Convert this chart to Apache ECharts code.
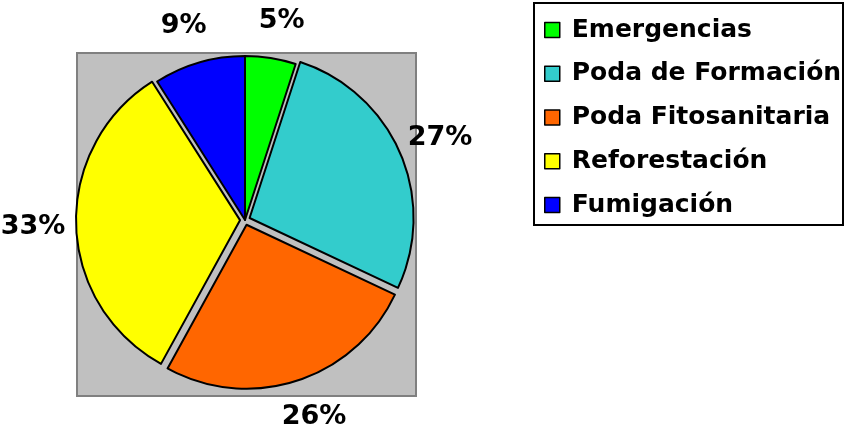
<!DOCTYPE html>
<html>
<head>
<meta charset="utf-8">
<script src="https://cdn.jsdelivr.net/npm/echarts@6/dist/echarts.min.js"></script>
<style>
  html, body { margin: 0; padding: 0; background: #fff; }
  #chart { width: 849px; height: 434px; }
</style>
</head>
<body>
<div id="chart"></div>
<script>
// datos del grafico
const categories = ["Emergencias", "Poda de Formación", "Poda Fitosanitaria", "Reforestación", "Fumigación"];
const values = [5, 27, 26, 33, 9];
const colors = ["#00ff00", "#33cccc", "#ff6600", "#ffff00", "#0000ff"];
const exploded = [false, true, true, true, false];

const FONT = "DejaVu Sans";

const chart = echarts.init(document.getElementById("chart"), null, { renderer: "canvas" });

const option = {
  backgroundColor: "#ffffff",
  animation: false,
  graphic: [
    {
      type: "rect",
      z: -1,
      shape: { x: 77, y: 53, width: 339, height: 343 },
      style: { fill: "#c0c0c0", stroke: "#808080", lineWidth: 2 }
    },
    {
      type: "rect",
      z: -1,
      shape: { x: 534, y: 3, width: 309, height: 222 },
      style: { fill: "#ffffff", stroke: "#000000", lineWidth: 2 }
    }
  ],
  legend: {
    orient: "vertical",
    left: 534,
    top: 3,
    padding: [12, 6, 5, 10],
    itemWidth: 15,
    itemHeight: 15,
    itemGap: 13.75,
    icon: "rect",
    itemStyle: { borderColor: "#000", borderWidth: 1.5 },
    textStyle: {
      fontFamily: FONT,
      fontWeight: "bold",
      fontSize: 25,
      lineHeight: 30,
      color: "#000",
      padding: [0, 0, 0, 7]
    },
    data: categories
  },
  series: [
    {
      type: "pie",
      center: [245, 220],
      radius: 164,
      startAngle: 90,
      clockwise: true,
      avoidLabelOverlap: false,
      selectedMode: "multiple",
      selectedOffset: 5,
      emphasis: { disabled: true },
      itemStyle: { borderColor: "#000", borderWidth: 2 },
      label: {
        show: true,
        position: "outside",
        formatter: "{c}%",
        fontFamily: FONT,
        fontWeight: "bold",
        fontSize: 27,
        color: "#000"
      },
      labelLine: { show: false, length: 38, length2: 0 },
      labelLayout: { align: "center", verticalAlign: "middle" },
      data: categories.map((name, i) => ({
        name: name,
        value: values[i],
        selected: exploded[i],
        itemStyle: { color: colors[i] }
      }))
    }
  ]
};

chart.setOption(option);
</script>
</body>
</html>
